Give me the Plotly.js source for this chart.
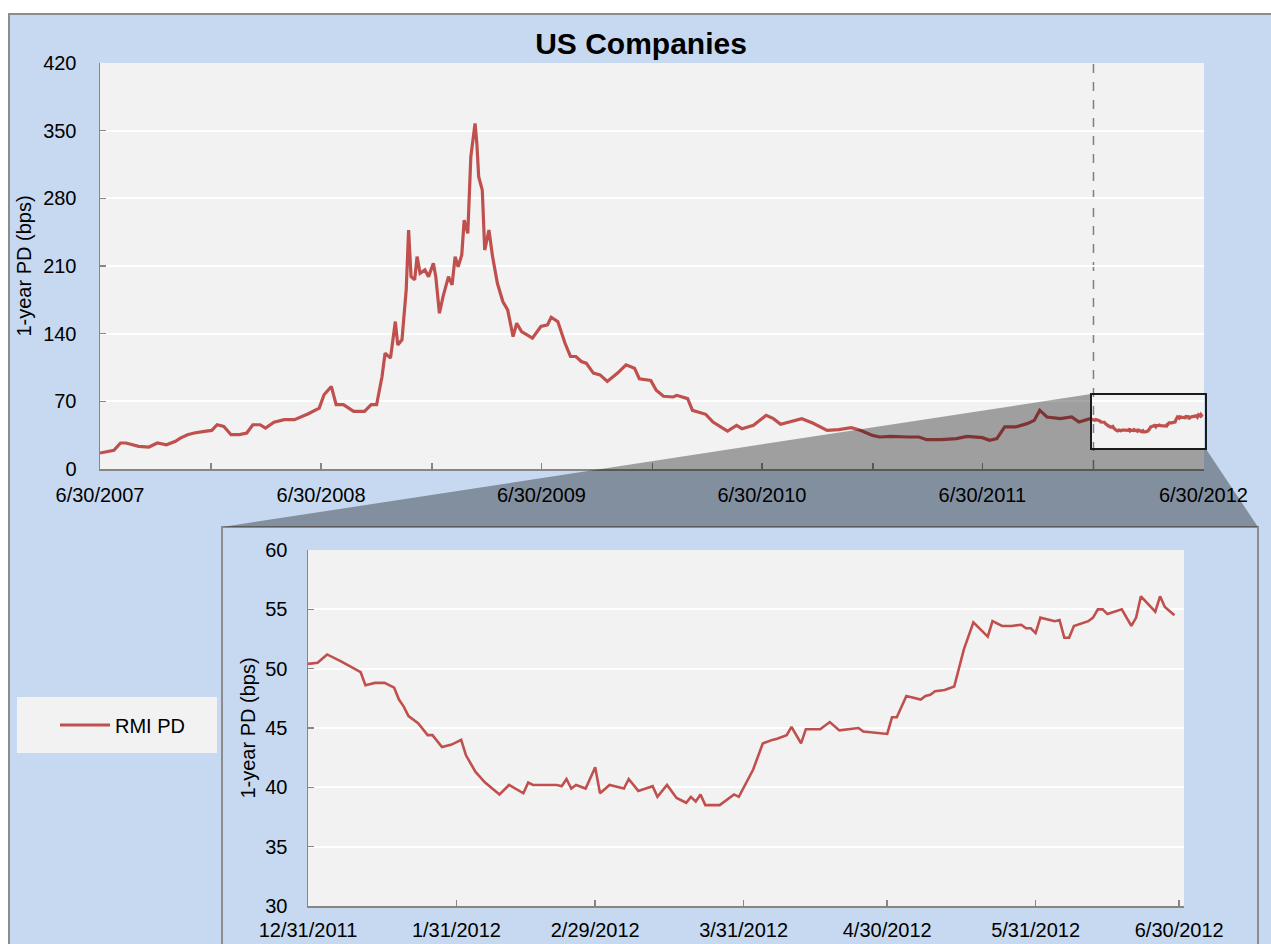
<!DOCTYPE html>
<html><head><meta charset="utf-8">
<script src="https://cdn.plot.ly/plotly-3.0.1.min.js"></script>
<style>html,body{margin:0;padding:0;background:#fff}#chart{width:1271px;height:944px}</style>
</head><body><div id="chart"></div>
<script>
// ---------- DATA ----------
const seriesName = 'RMI PD';
const chartTitle = 'US Companies';
const yTitle = '1-year PD (bps)';

// Full-history series (6/30/2007 .. 12/2011)
const mainDates = [
 '2007-06-30','2007-07-23','2007-08-03','2007-08-12','2007-09-02','2007-09-19','2007-10-03','2007-10-18','2007-11-02','2007-11-10',
 '2007-11-22','2007-12-03','2007-12-20','2008-01-01','2008-01-10','2008-01-21','2008-02-02','2008-02-16','2008-02-28','2008-03-09',
 '2008-03-21','2008-03-30','2008-04-13','2008-04-30','2008-05-17','2008-06-09','2008-06-27','2008-07-05','2008-07-17','2008-07-25',
 '2008-08-06','2008-08-23','2008-09-10','2008-09-21','2008-09-30','2008-10-09','2008-10-14','2008-10-23','2008-10-31','2008-11-04',
 '2008-11-11','2008-11-18','2008-11-22','2008-11-26','2008-12-02','2008-12-06','2008-12-11','2008-12-19','2008-12-25','2009-01-02',
 '2009-01-06','2009-01-12','2009-01-18','2009-01-27','2009-02-02','2009-02-07','2009-02-12','2009-02-18','2009-02-22','2009-02-28',
 '2009-03-05','2009-03-12','2009-03-15','2009-03-18','2009-03-24','2009-03-28','2009-04-04','2009-04-10','2009-04-18','2009-04-27',
 '2009-05-05','2009-05-14','2009-05-20','2009-05-28','2009-06-15','2009-06-29','2009-07-10','2009-07-16','2009-07-27','2009-08-08',
 '2009-08-17','2009-08-26','2009-09-04','2009-09-12','2009-09-24','2009-10-05','2009-10-17','2009-11-03','2009-11-17','2009-12-01',
 '2009-12-09','2009-12-28','2010-01-06','2010-01-18','2010-02-03','2010-02-09','2010-02-27','2010-03-07','2010-03-29','2010-04-10',
 '2010-05-04','2010-05-19','2010-05-28','2010-06-16','2010-07-07','2010-07-19','2010-07-31','2010-08-16','2010-09-04','2010-09-22',
 '2010-10-04','2010-10-16','2010-11-04','2010-11-25','2010-12-10','2010-12-30','2011-01-11','2011-01-29','2011-02-28','2011-03-17',
 '2011-03-30','2011-04-23','2011-05-18','2011-06-05','2011-06-30','2011-07-12','2011-07-24','2011-08-06','2011-08-24','2011-09-12',
 '2011-09-24','2011-10-03','2011-10-15','2011-11-06','2011-11-25','2011-12-07','2011-12-25'
];
const mainValues = [
 16.5,19.3,26.9,26.9,23.4,22.7,26.9,25.1,28.6,32.0,
 35.5,37.2,38.9,39.9,45.8,44.1,35.5,35.5,37.2,45.8,
 45.8,42.3,48.5,51.0,51.0,57.2,63.0,76.8,85.4,66.5,
 66.5,59.6,59.6,66.5,66.5,95.7,119.8,114.7,152.5,128.4,
 133.6,185.2,247.2,199.0,195.6,219.7,202.4,205.9,199.0,212.8,
 199.0,161.1,178.3,199.0,190.4,219.7,209.3,221.4,257.5,243.8,
 322.9,357.4,336.7,302.3,288.5,226.5,247.2,219.7,192.1,173.2,
 164.6,137.0,150.8,142.2,135.3,147.4,149.1,157.0,152.5,130.1,
 116.4,116.4,111.2,109.5,99.2,97.4,90.6,99.2,107.8,104.3,
 93.4,91.7,81.4,75.2,74.5,76.2,72.8,60.7,56.6,48.6,
 39.3,45.2,41.7,45.2,55.5,52.1,46.2,48.6,52.1,47.6,
 43.5,40.0,40.7,42.8,40.0,34.8,33.1,33.8,33.1,33.1,
 30.3,30.3,31.4,33.8,32.4,29.7,31.4,43.5,43.5,46.9,
 50.3,60.7,53.8,52.1,53.8,48.6,52.1
];

// Zoomed period (12/31/2011 .. 6/30/2012)
const zoomDates = [
 '2011-12-31','2012-01-02','2012-01-04','2012-01-07','2012-01-11','2012-01-12','2012-01-14','2012-01-16','2012-01-18','2012-01-19',
 '2012-01-20','2012-01-21','2012-01-23','2012-01-25','2012-01-26','2012-01-28','2012-01-30','2012-02-01','2012-02-02','2012-02-04',
 '2012-02-06','2012-02-09','2012-02-11','2012-02-14','2012-02-15','2012-02-16','2012-02-21','2012-02-22','2012-02-23','2012-02-24',
 '2012-02-25','2012-02-27','2012-02-29','2012-03-01','2012-03-03','2012-03-06','2012-03-07','2012-03-09','2012-03-12','2012-03-13',
 '2012-03-15','2012-03-17','2012-03-19','2012-03-20','2012-03-21','2012-03-22','2012-03-23','2012-03-26','2012-03-29','2012-03-30',
 '2012-04-02','2012-04-04','2012-04-06','2012-04-07','2012-04-09','2012-04-10','2012-04-12','2012-04-13','2012-04-16','2012-04-18',
 '2012-04-20','2012-04-24','2012-04-25','2012-04-27','2012-04-30','2012-05-01','2012-05-02','2012-05-04','2012-05-07','2012-05-08',
 '2012-05-09','2012-05-10','2012-05-12','2012-05-14','2012-05-16','2012-05-18','2012-05-21','2012-05-22','2012-05-24','2012-05-26',
 '2012-05-28','2012-05-29','2012-05-30','2012-05-31','2012-06-01','2012-06-04','2012-06-05','2012-06-06','2012-06-07','2012-06-08',
 '2012-06-11','2012-06-12','2012-06-13','2012-06-14','2012-06-15','2012-06-18','2012-06-20','2012-06-21','2012-06-22','2012-06-25',
 '2012-06-26','2012-06-27','2012-06-29'
];
const zoomValues = [
 50.4,50.5,51.2,50.6,49.7,48.6,48.8,48.8,48.4,47.4,
 46.8,46.0,45.4,44.4,44.4,43.4,43.6,44.0,42.7,41.3,
 40.4,39.4,40.2,39.5,40.4,40.2,40.2,40.1,40.7,39.9,
 40.2,39.9,41.7,39.5,40.2,39.9,40.7,39.7,40.1,39.2,
 40.2,39.1,38.7,39.2,38.8,39.4,38.5,38.5,39.4,39.2,
 41.5,43.7,44.0,44.1,44.4,45.1,43.7,44.9,44.9,45.5,
 44.8,45.0,44.7,44.6,44.5,45.9,45.9,47.7,47.4,47.7,
 47.8,48.1,48.2,48.5,51.6,53.9,52.7,54.0,53.6,53.6,
 53.7,53.4,53.4,53.0,54.3,54.0,54.1,52.6,52.6,53.6,
 54.0,54.3,55.0,55.0,54.6,55.0,53.6,54.3,56.1,54.8,
 56.1,55.2,54.5
];

const mainTickVals = ['2007-06-30','2007-12-31','2008-06-30','2008-12-31','2009-06-30','2009-12-31','2010-06-30','2010-12-31','2011-06-30','2011-12-31','2012-06-30'];
const mainTickText = ['6/30/2007','','6/30/2008','','6/30/2009','','6/30/2010','','6/30/2011','','6/30/2012'];
const mainYTicks = [0,70,140,210,280,350,420];
const zoomTickVals = ['2011-12-31','2012-01-31','2012-02-29','2012-03-31','2012-04-30','2012-05-31','2012-06-30'];
const zoomTickText = ['12/31/2011','1/31/2012','2/29/2012','3/31/2012','4/30/2012','5/31/2012','6/30/2012'];
const zoomYTicks = [30,35,40,45,50,55,60];
const zoomStart = '2011-12-31';

// ---------- LAYOUT ----------
const W = 1271, H = 944;
const X = p => p / W;
const Y = p => 1 - p / H;
const FONT = 'Liberation Sans, Arial, sans-serif';
const RED = '#C0504D';
const AX = '#868686';

const traces = [
  {x: mainDates.concat(zoomDates), y: mainValues.concat(zoomValues), type:'scatter', mode:'lines',
   name: seriesName, line:{color:RED, width:3.2}, xaxis:'x', yaxis:'y', showlegend:true},
  {x: zoomDates, y: zoomValues, type:'scatter', mode:'lines',
   name: seriesName, line:{color:RED, width:2.6}, xaxis:'x2', yaxis:'y2', showlegend:false}
];

const commonAxis = {
  ticks:'inside', ticklen:6, tickwidth:1.5, tickcolor:AX,
  showline:true, linecolor:AX, linewidth:1.5, zeroline:false,
  tickfont:{family:FONT, size:20, color:'#000'}, fixedrange:true
};

const poly = 'M' + X(1091) + ',' + Y(394) + ' L' + X(1091) + ',' + Y(449) + ' L' + X(1206) + ',' + Y(449) +
             ' L' + X(1258) + ',' + Y(527) + ' L' + X(222) + ',' + Y(527) + ' Z';

const layout = {
  width: W, height: H,
  margin:{l:0, r:0, t:0, b:0, pad:0},
  paper_bgcolor:'#ffffff', plot_bgcolor:'rgba(0,0,0,0)',
  font:{family:FONT, color:'#000'},
  title:{text:'<b>' + chartTitle + '</b>', font:{family:FONT, size:30, color:'#000'},
         x:X(641), xanchor:'center', xref:'container', y:Y(43), yanchor:'middle', yref:'container'},
  showlegend:true,
  legend:{x:X(55), y:Y(725), xanchor:'left', yanchor:'middle', bgcolor:'rgba(0,0,0,0)',
          font:{family:FONT, size:20, color:'#000'}, itemwidth:50},
  xaxis: Object.assign({}, commonAxis, {
    domain:[X(100), X(1204)], type:'date', range:['2007-06-30','2012-07-01'],
    tickmode:'array', tickvals:mainTickVals, ticktext:mainTickText, showgrid:false,
    anchor:'y', ticklabelstandoff:7
  }),
  yaxis: Object.assign({}, commonAxis, {
    domain:[Y(469), Y(63)], range:[0,420], tickmode:'array', tickvals:mainYTicks,
    showgrid:true, gridcolor:'#ffffff', gridwidth:2, anchor:'x', ticklabelstandoff:18,
    title:{text:yTitle, font:{family:FONT, size:20, color:'#000'}, standoff:6}
  }),
  xaxis2: Object.assign({}, commonAxis, {
    domain:[X(308), X(1184)], type:'date', range:['2011-12-31','2012-07-01'],
    tickmode:'array', tickvals:zoomTickVals, ticktext:zoomTickText, showgrid:false,
    anchor:'y2', ticklabelstandoff:5
  }),
  yaxis2: Object.assign({}, commonAxis, {
    domain:[Y(906), Y(550)], range:[30,60], tickmode:'array', tickvals:zoomYTicks,
    showgrid:true, gridcolor:'#ffffff', gridwidth:2, anchor:'x2', ticklabelstandoff:15,
    title:{text:yTitle, font:{family:FONT, size:20, color:'#000'}, standoff:4}
  }),
  shapes:[
    {type:'rect', xref:'paper', yref:'paper', layer:'below', x0:X(9), y0:Y(14), x1:X(1290), y1:Y(960),
     fillcolor:'#C6D9F0', line:{color:'#8C8C8C', width:2}},
    {type:'rect', xref:'paper', yref:'paper', layer:'below', x0:X(100), y0:Y(63), x1:X(1204), y1:Y(469),
     fillcolor:'#F2F2F2', line:{width:0}},
    {type:'rect', xref:'paper', yref:'paper', layer:'below', x0:X(222), y0:Y(527), x1:X(1258), y1:Y(960),
     fillcolor:'#C6D9F0', line:{color:'#8C8C8C', width:2}},
    {type:'rect', xref:'paper', yref:'paper', layer:'below', x0:X(308), y0:Y(550), x1:X(1184), y1:Y(906),
     fillcolor:'#F2F2F2', line:{width:0}},
    {type:'rect', xref:'paper', yref:'paper', layer:'below', x0:X(17), y0:Y(697), x1:X(217), y1:Y(753),
     fillcolor:'#F2F2F2', line:{width:0}},
    {type:'line', xref:'x', yref:'y', layer:'below', x0:zoomStart, x1:zoomStart, y0:0, y1:420,
     line:{color:'#7F7F7F', width:1.5, dash:'dash'}},
    {type:'path', xref:'paper', yref:'paper', layer:'above', path:poly,
     fillcolor:'rgba(0,0,0,0.34)', line:{width:0}},
    {type:'rect', xref:'paper', yref:'paper', layer:'above', x0:X(1091), y0:Y(394), x1:X(1206), y1:Y(449),
     fillcolor:'rgba(0,0,0,0)', line:{color:'#1A1A1A', width:2}}
  ]
};

Plotly.newPlot('chart', traces, layout, {displayModeBar:false, staticPlot:true});
</script>
</body></html>
